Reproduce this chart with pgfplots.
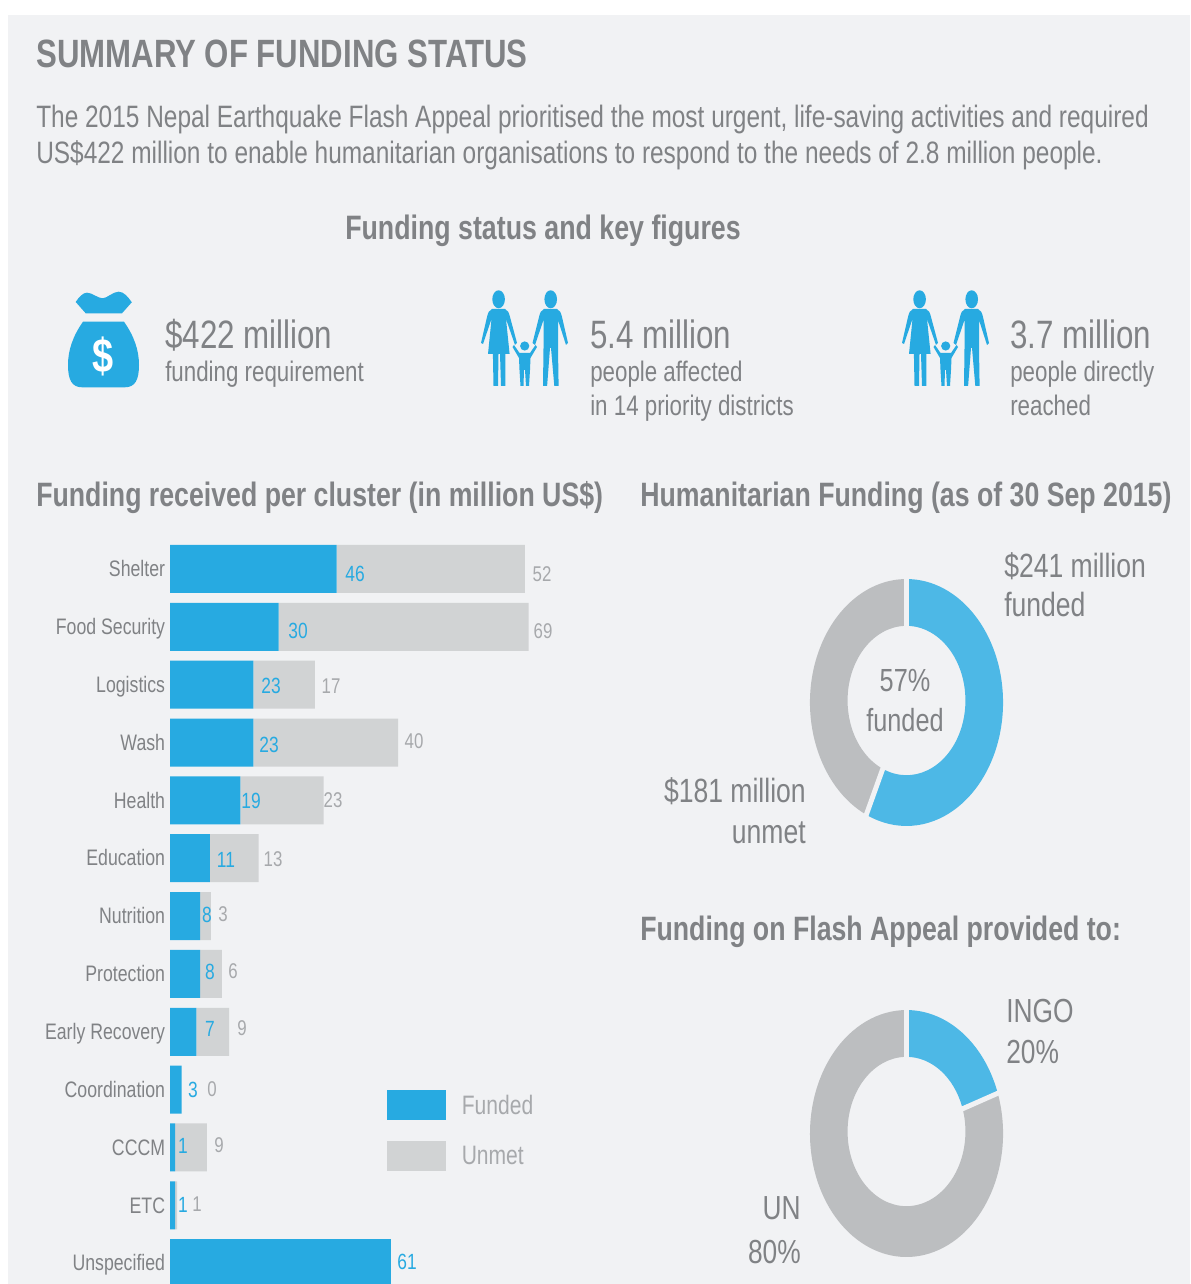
\documentclass[border=0pt]{standalone}
\usepackage{pgfplots}
\usepackage{pgfplotstable}
\usepackage{fontspec}
\pgfplotsset{compat=1.18}
\setmainfont{Liberation Sans}[FakeStretch=0.79]
\definecolor{bg}{HTML}{F1F2F4}
\definecolor{fundblue}{HTML}{27AAE1}
\definecolor{unmetgrey}{HTML}{D1D3D4}
\definecolor{donutblue}{HTML}{4DB8E6}
\definecolor{donutgrey}{HTML}{BCBEC0}
\definecolor{txt}{HTML}{808285}
\definecolor{lbl}{HTML}{A7A9AC}
\newcommand\T[4]{\node[anchor=base west,inner sep=0pt,text=txt,font=\fontsize{#3}{#3}\selectfont] at (#1,#2) {#4};}
\newcommand\TR[4]{\node[anchor=base east,inner sep=0pt,text=txt,font=\fontsize{#3}{#3}\selectfont] at (#1,#2) {#4};}
\newcommand\TC[4]{\node[anchor=base,inner sep=0pt,text=txt,font=\fontsize{#3}{#3}\selectfont] at (#1,#2) {#4};}
\newcommand\Tb[4]{\node[anchor=base west,inner sep=0pt,text=txt,font=\fontsize{#3}{#3}\selectfont\bfseries] at (#1,#2) {#4};}
\newcommand\family{%
  \fill[fundblue] (498.6,299.3) ellipse (6.3 and 9);
  \fill[fundblue] (550.7,299.3) ellipse (6.3 and 9);
  % woman
  \fill[fundblue] (492,309) -- (505,309) .. controls (508,310) and (509,313) .. (510,317) -- (517,343) -- (515,345) -- (506,319) -- (509.6,354) -- (505.4,354) -- (505.4,386) -- (501,386) -- (500,354) -- (498.5,354) -- (498,386) -- (493.5,386) -- (492.9,354) -- (488,354) -- (491.5,319) -- (483,344) -- (481,343) -- (487,317) .. controls (488,313) and (489,310) .. (492,309) -- cycle;
  % man
  \fill[fundblue] (544,309) -- (557,309) .. controls (560,310) and (561,313) .. (562,317) -- (568,343) -- (566,345) -- (558,320) -- (558,348) -- (558.6,386) -- (554.3,386) -- (551,348) -- (550,348) -- (547.1,386) -- (543,386) -- (543.5,348) -- (543.5,320) -- (535,345) -- (532.5,343) -- (539,317) .. controls (540,313) and (541,310) .. (544,309) -- cycle;
  % child
  \fill[fundblue] (524.7,346) circle (4.6);
  \fill[fundblue] (519.5,353) -- (530,353) -- (535.5,345) -- (537,347) -- (530.5,358) -- (530,370) -- (529,386) -- (526,386) -- (525,370) -- (524,370) -- (523.5,386) -- (520.5,386) -- (519.5,370) -- (519,358) -- (512.5,347) -- (514,345) -- cycle;
}
\pgfplotstableread{
x y label
355 581 46
298 638 30
271 693 23
269 752 23
251 808 19
226 867 11
207 922 8
210 979 8
210 1036 7
193 1097 3
183 1153 1
183 1212 1
407 1269 61
}\fundedlabels
\pgfplotstableread{
x y label
542 581 52
543 638 69
331 693 17
414 748 40
333 807 23
273 866 13
223 921 3
233 978 6
242 1035 9
212 1096 0
219 1152 9
197 1211 1
}\unmetlabels
\pgfmathsetmacro\endA{90-360*0.567}
\pgfmathsetmacro\endB{90-360*0.196}
\begin{document}
\begin{tikzpicture}
\useasboundingbox (0,0) rectangle (892.5pt,963pt);
\fill[white] (0,0) rectangle (892.5pt,963pt);
\fill[bg] (6pt,0) rectangle (892.5pt,951.75pt);
% bars
\begin{axis}[at={(127.5pt,0pt)},anchor=south west,scale only axis,
  width=292.5pt,height=565.5pt,xmin=0,xmax=107.7,ymin=-0.674,ymax=12.36,y dir=reverse,
  xbar stacked,bar width=36pt,
  axis line style={draw=none},tick style={draw=none},major tick length=0pt,
  xtick=\empty,ytick={0,...,12},
  yticklabels={Shelter,Food Security,Logistics,Wash,Health,Education,Nutrition,Protection,Early Recovery,Coordination,CCCM,ETC,Unspecified},
  yticklabel style={anchor=base east,inner sep=0pt,xshift=-3.5pt,yshift=-5.8pt,text=txt,font=\fontsize{16.8}{17}\selectfont},
  legend style={at={(0.556,0.257)},anchor=north west,draw=none,fill=none,inner sep=0pt,
    row sep=15.75pt,font=\fontsize{20}{20}\selectfont,text=lbl},
  legend cell align=left,
  legend image code/.code={\fill[#1] (0pt,-11.25pt) rectangle (44.25pt,11.25pt);\path[draw=none,fill=none] (54pt,-1pt) rectangle (54pt,1pt);},
]
\addplot[fill=fundblue,draw=none] coordinates {(46,0) (30,1) (23,2) (23,3) (19.4,4) (11,5) (8.3,6) (8.3,7) (7.3,8) (3.2,9) (1.4,10) (1.4,11) (61,12)};
\addplot[fill=unmetgrey,draw=none] coordinates {(52,0) (69,1) (17,2) (40,3) (23,4) (13.5,5) (3,6) (6,7) (9,8) (0,9) (8.8,10) (0.6,11) (0,12)};
\legend{Funded,Unmet}
\end{axis}
% canvas axis in pixel coordinates: donuts and value labels
\begin{axis}[at={(0pt,0pt)},anchor=south west,scale only axis,width=892.5pt,height=963pt,
  xmin=0,xmax=1190,ymin=0,ymax=1284,y dir=reverse,hide axis,clip=false]
\addplot[draw=none,mark=none,nodes near coords,point meta=explicit symbolic,
  every node near coord/.style={anchor=base,inner sep=0pt,text=fundblue,font=\fontsize{16.5}{17}\selectfont}]
  table[x=x,y=y,meta=label] {\fundedlabels};
\addplot[draw=none,mark=none,nodes near coords,point meta=explicit symbolic,
  every node near coord/.style={anchor=base,inner sep=0pt,text=lbl,font=\fontsize{16}{17}\selectfont}]
  table[x=x,y=y,meta=label] {\unmetlabels};
\begin{scope}[shift={(axis cs:906.5,702.5)}]
  \fill[donutblue] (90:72.4pt and 92.6pt) arc[start angle=90,end angle=\endA,x radius=72.4pt,y radius=92.6pt] -- ([yshift=1.5pt]\endA:44.2pt and 56pt) arc[start angle=\endA,end angle=90,x radius=44.2pt,y radius=56pt] -- cycle;
  \fill[donutgrey] (\endA:72.4pt and 92.6pt) arc[start angle=\endA,end angle=-270,x radius=72.4pt,y radius=92.6pt] -- ([yshift=1.5pt]90:44.2pt and 56pt) arc[start angle=-270,end angle=\endA,x radius=44.2pt,y radius=56pt] -- cycle;
  \draw[bg,line width=3.7pt] (0,0) -- (90:80pt and 100pt);
  \draw[bg,line width=3.7pt] (0,0) -- (\endA:80pt and 100pt);
\end{scope}
\begin{scope}[shift={(axis cs:906.5,1133.5)}]
  \fill[donutblue] (90:72.4pt and 92.6pt) arc[start angle=90,end angle=\endB,x radius=72.4pt,y radius=92.6pt] -- ([yshift=1.5pt]\endB:44.2pt and 56pt) arc[start angle=\endB,end angle=90,x radius=44.2pt,y radius=56pt] -- cycle;
  \fill[donutgrey] (\endB:72.4pt and 92.6pt) arc[start angle=\endB,end angle=-270,x radius=72.4pt,y radius=92.6pt] -- ([yshift=1.5pt]90:44.2pt and 56pt) arc[start angle=-270,end angle=\endB,x radius=44.2pt,y radius=56pt] -- cycle;
  \draw[bg,line width=3.7pt] (0,0) -- (90:80pt and 100pt);
  \draw[bg,line width=3.7pt] (0,0) -- (\endB:80pt and 100pt);
\end{scope}
\end{axis}
% texts and icons in pixel units
\begin{scope}[shift={(0pt,963pt)},x=0.75pt,y=-0.75pt]
  \Tb{36}{68}{29.6}{SUMMARY OF FUNDING STATUS}
  \T{36}{128}{23.2}{The 2015 Nepal Earthquake Flash Appeal prioritised the most urgent, life-saving activities and required}
  \T{36}{164}{23.2}{US\$422 million to enable humanitarian organisations to respond to the needs of 2.8 million people.}
  \Tb{345}{240}{25.4}{Funding status and key figures}
  \T{165}{349}{29.7}{\$422 million}
  \T{165}{382}{21.2}{funding requirement}
  \T{590}{349}{29.7}{5.4 million}
  \T{590}{382}{21.2}{people affected}
  \T{590}{416}{21.2}{in 14 priority districts}
  \T{1010}{349}{29.7}{3.7 million}
  \T{1010}{382}{21.2}{people directly}
  \T{1010}{416}{21.2}{reached}
  \Tb{36}{507}{25.35}{Funding received per cluster (in million US\$)}
  \Tb{640}{507}{25.35}{Humanitarian Funding (as of 30 Sep 2015)}
  \T{1004}{578}{25.2}{\$241 million}
  \T{1004}{617}{25.2}{funded}
  \TC{905}{692}{24}{57\%}
  \TC{905}{732}{24}{funded}
  \TR{806}{803}{25.2}{\$181 million}
  \TR{806}{844}{25.2}{unmet}
  \Tb{640}{941}{25.35}{Funding on Flash Appeal provided to:}
  \T{1006}{1023}{25}{INGO}
  \T{1006}{1064}{25}{20\%}
  \TR{801}{1220}{25}{UN}
  \TR{801}{1263}{25}{80\%}
  % money bag
  \fill[fundblue] (75.7,302) .. controls (79,297) and (83,292.7) .. (87,292.7) .. controls (92,292.7) and (98,298.3) .. (102.5,298.3) .. controls (107,298.3) and (113,291.7) .. (118.6,291.7) .. controls (124,291.7) and (128,297) .. (131.8,302.3) -- (122,313.3) -- (85.7,313.3) -- cycle;
  \fill[fundblue] (83,321.7) -- (124,321.7) .. controls (134,336) and (139,350) .. (139,365) .. controls (139,380) and (135,387.3) .. (125,387.3) -- (82,387.3) .. controls (72,387.3) and (68,380) .. (68,365) .. controls (68,350) and (73,336) .. (83,321.7) -- cycle;
  \node[inner sep=0pt,text=white,font=\fontsize{36}{36}\selectfont\bfseries] at (103,356) {\$};
  \family
  \begin{scope}[shift={(421,0)}]\family\end{scope}
\end{scope}
\end{tikzpicture}
\end{document}
